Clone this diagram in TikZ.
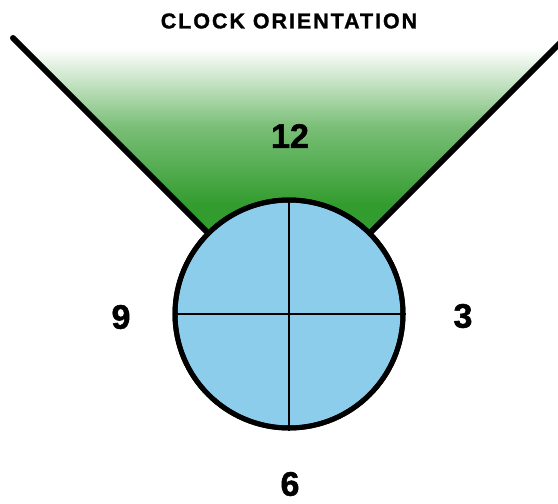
\documentclass[tikz,border=0pt]{standalone}
\usepackage{fontspec}
\setmainfont{Liberation Sans}
\newfontfamily\titlefont[LetterSpace=9, FakeBold=1.2]{Liberation Sans Bold}
\newfontfamily\digitfont[FakeBold=1.5]{Liberation Sans Bold}
\definecolor{conegreen}{RGB}{50,156,46}
\definecolor{dialblue}{RGB}{140,205,236}
\tikzset{
  hourlabel/.style={font=\digitfont\fontsize{34}{34}\selectfont, inner sep=0pt, text=black},
  coneline/.style={line width=6pt, line cap=round, black},
  dialstyle/.style={circle, draw=black, line width=5pt, fill=dialblue, minimum size=228pt, inner sep=0pt},
  crossline/.style={line width=2.5pt, black}
}
\begin{document}
\begin{tikzpicture}[x=1pt,y=-1pt]
\useasboundingbox (0,0) rectangle (558,504);
\clip (0,0) rectangle (558,504);
\coordinate (c) at (289,314);
\coordinate (tl) at (13,38);
\coordinate (tr) at (565,38);
% green cone
\begin{scope}
  \clip (c) -- (tl) -- (tr) -- cycle;
  \shade[top color=white, bottom color=conegreen, middle color=conegreen!65] (0,48) rectangle (558,205);
  \fill[conegreen] (0,204) rectangle (558,320);
\end{scope}
\draw[coneline] (c) -- (tl);
\draw[coneline] (c) -- (tr);
% dial
\node[dialstyle] (dial) at (c) {};
\draw[crossline] (dial.north) -- (dial.south);
\draw[crossline] (dial.west) -- (dial.east);
\draw[black, line width=5pt] (dial.center) circle (114pt);
% labels
\node[font=\titlefont\fontsize{21.5}{21.5}\selectfont, inner sep=0pt] (title) at (289,21) {CLOCK ORIENTATION};
\node[hourlabel] (h12) at (290,136) {12};
\node[hourlabel] (h9) at (121,317) {9};
\node[hourlabel] (h3) at (463,316) {3};
\node[hourlabel] (h6) at (290,484) {6};
\end{tikzpicture}
\end{document}
